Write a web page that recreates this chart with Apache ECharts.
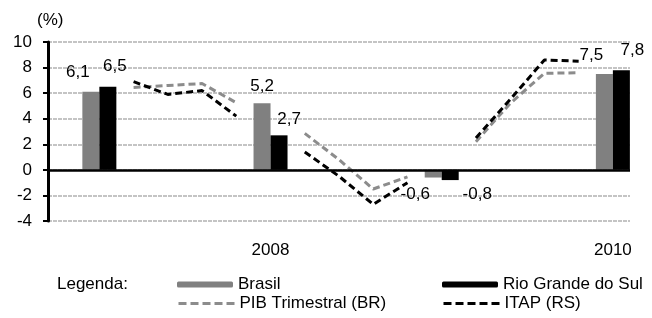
<!DOCTYPE html>
<html>
<head>
<meta charset="utf-8">
<script src="https://cdn.jsdelivr.net/npm/echarts@6/dist/echarts.min.js"></script>
<style>
  html, body { margin: 0; padding: 0; background: #fff; }
  #main { width: 652px; height: 318px; }
</style>
</head>
<body>
<div id="main"></div>
<script>
// anos e valores anuais (%)
const years = ['2007', '2008', '2009', '2010']
const shownYears = ['2008', '2010']
const brasil = [6.1, 5.2, -0.6, 7.5]
const rioGrande = [6.5, 2.7, -0.8, 7.8]
// trimestrais entre as barras
const pibTrim = [
  [6.45, 6.6, 6.75, 5.25],
  [2.85, 0.8, -1.5, -0.55],
  [2.2, 5.2, 7.55, 7.6]
]
const itap = [
  [6.9, 5.9, 6.2, 4.2],
  [1.4, -0.5, -2.7, -1.0],
  [2.5, 5.5, 8.6, 8.5]
]
const yTicks = { min: -4, max: 10, interval: 2 }

// monta os slots do eixo (um slot vazio no inicio)
const categories = ['']
const brasilData = [null]
const rsData = [null]
const pibData = [null]
const itapData = [null]
years.forEach((y, i) => {
  categories.push(y)
  brasilData.push(brasil[i])
  rsData.push(rioGrande[i])
  pibData.push(null)
  itapData.push(null)
  if (i < years.length - 1) {
    for (let q = 0; q < 4; q++) {
      categories.push(years[i + 1] + 'T' + (q + 1))
      brasilData.push(null)
      rsData.push(null)
      pibData.push(pibTrim[i][q])
      itapData.push(itap[i][q])
    }
  }
})

// deslocamento dos rotulos das barras
const brasilLabelOffset = [[-13, -6], [0, -4], [-18, 3], [-13, -5]]
const rsLabelOffset = [[7, -7], [10, -3], [27, 1], [11, -6]]

const fmt = v => v.toFixed(1).replace('.', ',')
const font = 'Liberation Sans, Arial, sans-serif'
const fs = 17

function withLabels(data, offsets) {
  let k = 0
  return data.map(v => {
    if (v === null) return null
    const off = offsets[k++]
    return {
      value: v,
      label: { position: v < 0 ? 'bottom' : 'top', offset: off }
    }
  })
}

function legendItem(name, left, top, isLine, color) {
  const lg = {
    data: [name],
    left: left,
    top: top,
    padding: 0,
    itemWidth: 56,
    itemHeight: 6,
    textStyle: { fontSize: fs, color: '#000', fontFamily: font }
  }
  if (isLine) {
    lg.itemStyle = { opacity: 0 }
    lg.lineStyle = { color: color, width: 3, type: [8, 4] }
  }
  return lg
}

const chart = echarts.init(document.getElementById('main'))
const option = {
  animation: false,
  textStyle: { fontFamily: font },
  grid: { left: 48, right: 22, top: 42, bottom: 97 },
  graphic: [
    { type: 'text', left: 37, top: 12, style: { text: '(%)', font: fs + 'px ' + font, fill: '#000' } },
    { type: 'text', left: 57, top: 276, style: { text: 'Legenda:', font: fs + 'px ' + font, fill: '#000' } }
  ],
  legend: [
    legendItem('Brasil', 177, 276, false),
    legendItem('Rio Grande do Sul', 442, 276, false),
    legendItem('PIB Trimestral (BR)', 177, 295, true, '#8c8c8c'),
    legendItem('ITAP (RS)', 442, 295, true, '#000')
  ],
  xAxis: {
    type: 'category',
    data: categories,
    axisLine: { show: false },
    axisTick: { show: false },
    axisLabel: {
      interval: 0,
      margin: 21,
      color: '#000',
      fontSize: fs,
      formatter: v => (shownYears.includes(v) ? v : '')
    }
  },
  yAxis: {
    type: 'value',
    min: yTicks.min,
    max: yTicks.max,
    interval: yTicks.interval,
    axisLine: { show: true, lineStyle: { color: '#000', width: 3 } },
    axisTick: { show: true, length: 5, lineStyle: { color: '#000', width: 2 } },
    axisLabel: { color: '#000', fontSize: fs, margin: 16 },
    splitLine: { show: true, lineStyle: { color: '#c4c4c4', width: 2, type: [4, 1] } }
  },
  series: [
    {
      name: 'Brasil',
      type: 'bar',
      barWidth: 17,
      barGap: 0,
      itemStyle: { color: '#808080' },
      label: { show: true, color: '#000', fontSize: fs, formatter: p => fmt(p.value) },
      data: withLabels(brasilData, brasilLabelOffset),
      markLine: {
        silent: true,
        symbol: 'none',
        label: { show: false },
        lineStyle: { color: '#000', width: 2.5, type: 'solid' },
        data: [{ yAxis: 0 }]
      }
    },
    {
      name: 'Rio Grande do Sul',
      type: 'bar',
      barWidth: 17,
      barGap: 0,
      itemStyle: { color: '#000' },
      label: { show: true, color: '#000', fontSize: fs, formatter: p => fmt(p.value) },
      data: withLabels(rsData, rsLabelOffset)
    },
    {
      name: 'PIB Trimestral (BR)',
      type: 'line',
      symbol: 'none',
      connectNulls: false,
      itemStyle: { color: '#8c8c8c' },
      lineStyle: { color: '#8c8c8c', width: 3, type: [7, 4] },
      data: pibData
    },
    {
      name: 'ITAP (RS)',
      type: 'line',
      symbol: 'none',
      connectNulls: false,
      itemStyle: { color: '#000' },
      lineStyle: { color: '#000', width: 3, type: [7, 4] },
      data: itapData
    }
  ]
}
chart.setOption(option)
</script>
</body>
</html>
